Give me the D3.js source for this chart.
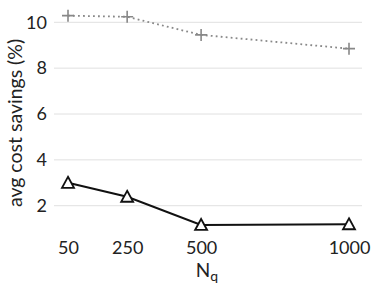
<!DOCTYPE html>
<html>
<head>
<meta charset="utf-8">
<script src="https://cdn.jsdelivr.net/npm/d3@7"></script>
<style>
  body { margin: 0; background: #fff; }
  text { font-family: "Linux Biolinum", Lato, "Open Sans", sans-serif; }
</style>
</head>
<body>
<div id="chart"></div>
<script>
// data
const nq = [50, 250, 500, 1000];
const graySeries = [10.29, 10.24, 9.45, 8.85];
const blackSeries = [3.0, 2.39, 1.16, 1.19];
const yTicks = [2, 4, 6, 8, 10];

const width = 374;
const height = 290;

const svg = d3.select("#chart")
  .append("svg")
  .attr("width", width)
  .attr("height", height);

const x = d3.scaleLinear().domain([50, 1000]).range([68, 349]);
const y = d3.scaleLinear().domain([2, 10]).range([205.7, 22.3]);

// grid lines
svg.append("g")
  .selectAll("line")
  .data(yTicks)
  .join("line")
  .attr("x1", 54)
  .attr("x2", 362)
  .attr("y1", d => y(d))
  .attr("y2", d => y(d))
  .attr("stroke", "#e0e0e0")
  .attr("stroke-width", 1);

// y tick labels
const yAxis = d3.axisLeft(y).tickValues(yTicks).tickSize(0).tickPadding(0);
svg.append("g")
  .attr("transform", "translate(47,0)")
  .call(yAxis)
  .call(g => g.select(".domain").remove())
  .selectAll("text")
  .attr("font-size", 18)
  .attr("fill", "#222")
  .attr("font-family", "'Linux Biolinum', Lato, 'Open Sans', sans-serif");

// x tick labels
const xAxis = d3.axisBottom(x).tickValues(nq).tickFormat(d3.format("d")).tickSize(0).tickPadding(0);
svg.append("g")
  .attr("transform", "translate(0,241)")
  .call(xAxis)
  .call(g => g.select(".domain").remove())
  .selectAll("text")
  .attr("font-size", 18)
  .attr("fill", "#222")
  .attr("font-family", "'Linux Biolinum', Lato, 'Open Sans', sans-serif");

// axis titles
svg.append("text")
  .attr("transform", "translate(22,123) rotate(-90)")
  .attr("text-anchor", "middle")
  .attr("font-size", 19.5)
  .attr("fill", "#222")
  .text("avg cost savings (%)");

const xt = svg.append("text")
  .attr("x", 207)
  .attr("y", 277)
  .attr("text-anchor", "middle")
  .attr("font-size", 19)
  .attr("fill", "#222");
xt.append("tspan").text("N");
xt.append("tspan").attr("dy", 4).attr("font-size", 14).text("q");

// lines
const line = d3.line().x(d => x(d[0])).y(d => y(d[1]));

svg.append("path")
  .datum(d3.zip(nq, graySeries))
  .attr("d", line)
  .attr("fill", "none")
  .attr("stroke", "#888")
  .attr("stroke-width", 1.8)
  .attr("stroke-dasharray", "1.8,3.2");

svg.append("path")
  .datum(d3.zip(nq, blackSeries))
  .attr("d", line)
  .attr("fill", "none")
  .attr("stroke", "#111")
  .attr("stroke-width", 2);

// markers
svg.append("g")
  .selectAll("path")
  .data(d3.zip(nq, graySeries))
  .join("path")
  .attr("transform", d => `translate(${x(d[0])},${y(d[1])})`)
  .attr("d", "M-6,0H6M0,-6V6")
  .attr("stroke", "#888")
  .attr("stroke-width", 1.6)
  .attr("fill", "none");

svg.append("g")
  .selectAll("path")
  .data(d3.zip(nq, blackSeries))
  .join("path")
  .attr("transform", d => `translate(${x(d[0])},${y(d[1])})`)
  .attr("d", "M0,-6L6,5H-6Z")
  .attr("stroke", "#111")
  .attr("stroke-width", 1.8)
  .attr("fill", "#fff");
</script>
</body>
</html>
